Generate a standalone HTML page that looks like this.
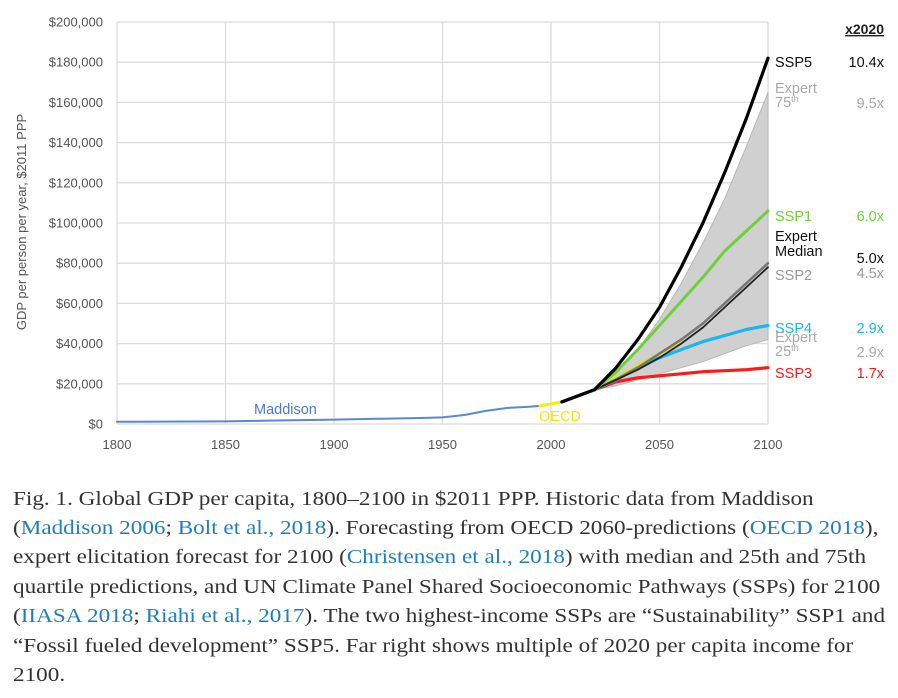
<!DOCTYPE html>
<html><head><meta charset="utf-8">
<style>
body{margin:0;width:898px;height:698px;background:#fff;overflow:hidden;position:relative}
#chart{position:absolute;left:0;top:0}
.cap{position:absolute;left:13px;font-family:"Liberation Serif",serif;font-size:20.5px;color:#333;white-space:nowrap;line-height:20px;transform:scaleX(1.13);transform-origin:0 0}
.cap a{color:#1f7ec2;text-decoration:none}
</style></head><body>
<svg id="chart" width="898" height="470" font-family="Liberation Sans, sans-serif"></svg>
<div>
<div class="cap" style="top:489px">Fig. 1. Global GDP per capita, 1800–2100 in $2011 PPP. Historic data from Maddison</div>
<div class="cap" style="top:518px">(<a>Maddison 2006</a>; <a>Bolt et al., 2018</a>). Forecasting from OECD 2060-predictions (<a>OECD 2018</a>),</div>
<div class="cap" style="top:547px">expert elicitation forecast for 2100 (<a>Christensen et al., 2018</a>) with median and 25th and 75th</div>
<div class="cap" style="top:577px">quartile predictions, and UN Climate Panel Shared Socioeconomic Pathways (SSPs) for 2100</div>
<div class="cap" style="top:606px">(<a>IIASA 2018</a>; <a>Riahi et al., 2017</a>). The two highest-income SSPs are “Sustainability” SSP1 and</div>
<div class="cap" style="top:636px">“Fossil fueled development” SSP5. Far right shows multiple of 2020 per capita income for</div>
<div class="cap" style="top:665px">2100.</div>
</div>
<script>
const xTicks=[1800,1850,1900,1950,2000,2050,2100];
const yTicks=[0,20000,40000,60000,80000,100000,120000,140000,160000,180000,200000];
const maddYears=[1800,1820,1850,1870,1900,1920,1940,1950,1960,1970,1980,1990,1995];
const maddVals=[1100,1200,1300,1700,2200,2600,3000,3300,4500,6500,8000,8600,9000];
const oecdHistYears=[1995,2005];
const oecdHistVals=[9000,11000];
const projYears=[2005,2020,2030,2040,2050,2060,2070,2080,2090,2100];
const ssp5=[11000,17000,28000,42000,58000,78000,100000,125000,152000,182000];
const ssp1=[11000,17000,26000,37000,49000,61000,73000,86000,96000,106000];
const ssp2=[11000,17000,22000,28000,35000,42000,50000,60000,70000,80000];
const median=[11000,17000,22000,27000,33000,40000,48000,58000,68000,78000];
const ssp4=[11000,17000,22000,28000,33000,37000,41000,44000,47000,49000];
const ssp3=[11000,17000,21000,23000,24000,25000,26000,26500,27000,28000];
const p75=[11000,17000,25000,37000,52000,70000,90000,112000,138000,165000];
const p25=[11000,17000,19000,22000,25000,28000,31000,35000,39000,42000];
const oecdProjYears=[2020,2030,2040,2050,2060];
const oecdProjVals=[17000,23000,29000,35000,41000];
const labels=["SSP5","Expert 75th","SSP1","Expert Median","SSP2","SSP4","Expert 25th","SSP3"];
const mult=["10.4x","9.5x","6.0x","5.0x","4.5x","2.9x","2.9x","1.7x"];

const svg=document.getElementById('chart');
const NS='http://www.w3.org/2000/svg';
const X=y=>117+(y-1800)*(768-117)/300;
const Y=v=>424-v*(424-22)/200000;
function el(t,a,p){const e=document.createElementNS(NS,t);for(const k in a)e.setAttribute(k,a[k]);(p||svg).appendChild(e);return e;}
function txt(s,a){const e=el('text',a);e.textContent=s;return e;}
function pts(xs,vs){return xs.map((x,i)=>X(x).toFixed(1)+','+Y(vs[i]).toFixed(1)).join(' ');}

yTicks.forEach(v=>{
 const l=el('line',{x1:117,x2:768,y1:Y(v),y2:Y(v),stroke:'#dcdcdc','stroke-width':1.3});
 
 const t=txt('$'+v.toLocaleString('en-US'),{x:103,y:Y(v)+4.5,'text-anchor':'end','font-size':13,fill:'#555'});
 
});
xTicks.forEach(v=>{
 const l=el('line',{x1:X(v),x2:X(v),y1:22,y2:424,stroke:'#dcdcdc','stroke-width':1.3});
 
 const t=txt(String(v),{x:X(v),y:449,'text-anchor':'middle','font-size':13,fill:'#555'});
 
});
const yt=txt('GDP per person per year, $2011 PPP',{transform:'translate(26,222) rotate(-90)','text-anchor':'middle','font-size':13,fill:'#555'});


const band=el('polygon',{points:pts(projYears,p75)+' '+pts(projYears.slice().reverse(),p25.slice().reverse()),fill:'#d0d0d0',stroke:'#b8b8b8','stroke-width':1});


function line(xs,vs,c,w,name){const p=el('polyline',{points:pts(xs,vs),fill:'none',stroke:c,'stroke-width':w,'stroke-linejoin':'round','stroke-linecap':'round'});
 }
line(maddYears,maddVals,'#5b87d6',2,'maddison-line');
line(oecdHistYears,oecdHistVals,'#f2f20a',3,'oecd-history-line');
line(oecdProjYears,oecdProjVals,'#e6e600',3,'oecd-projection-line');
line(projYears,ssp3,'#ff1a1a',3.2,'ssp3-line');
line(projYears,ssp4,'#19b6f0',3.2,'ssp4-line');
line(projYears,ssp2,'#777',2.5,'ssp2-line');
line(projYears,median,'#222',1.8,'expert-median-line');
line(projYears,ssp1,'#6ed13a',3,'ssp1-line');
line(projYears,ssp5,'#000',3.2,'ssp5-line');

const m=txt('Maddison',{x:254,y:414,'font-size':14.5,fill:'#4a7bd0'});
const o=txt('OECD',{x:539,y:421,'font-size':14.5,fill:'#eded00'});

const h=txt('x2020',{x:884,y:34,'text-anchor':'end','font-size':14,'font-weight':'bold',fill:'#222','text-decoration':'underline'});

const colors=['#111','#aaa','#6ed13a','#111','#999','#19b6f0','#aaa','#ff1a1a'];
const ys=[62,93,216,245,275,328,342,373];
const vys=[62,103,216,258,273,328,352,373];
labels.forEach((s,i)=>{
 const g=el('g',{});
 
 if(s.startsWith('Expert ')&&s!=='Expert Median'){
  el('text',{x:775,y:ys[i],'font-size':14.5,fill:colors[i]},g).textContent='Expert';
  const t=el('text',{x:775,y:ys[i]+14,'font-size':14.5,fill:colors[i]},g);t.textContent=s.slice(7,9);
  const sup=el('tspan',{'font-size':9,dy:-5},t);sup.textContent='th';
 } else if(s==='Expert Median'){
  el('text',{x:775,y:ys[i]-4,'font-size':14.5,fill:colors[i]},g).textContent='Expert';
  el('text',{x:775,y:ys[i]+11,'font-size':14.5,fill:colors[i]},g).textContent='Median';
 } else {
  el('text',{x:775,y:ys[i]+5,'font-size':14.5,fill:colors[i]},g).textContent=s;
 }
 const v=txt(mult[i],{x:884,y:vys[i]+5,'text-anchor':'end','font-size':14.5,fill:colors[i]});
 
});
</script>
</body></html>
